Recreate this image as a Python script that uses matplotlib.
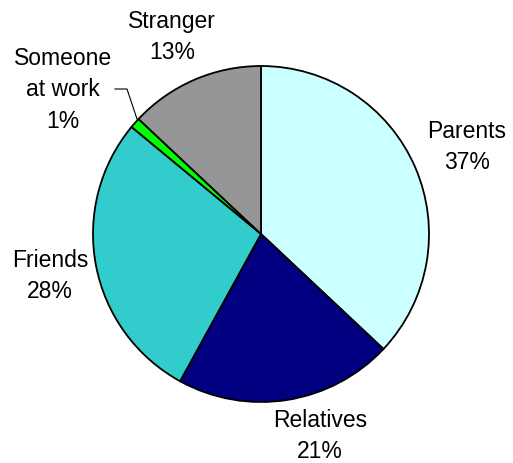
import matplotlib
matplotlib.use("Agg")
import matplotlib.pyplot as plt

categories = ["Parents", "Relatives", "Friends", "Someone\nat work", "Stranger"]
values = [37, 21, 28, 1, 13]
colors = ["#CCFFFF", "#000080", "#33CCCC", "#00FF00", "#969696"]
label_pos = [(467, 147), (320, 436), (50, 276), (63, 90), (172, 37)]

W, H = 513, 464
fig = plt.figure(figsize=(W / 100, H / 100), dpi=100)
ax = fig.add_axes([0, 0, 1, 1])

cx, cy, r = 261, H - 235, 168
ax.pie(values, colors=colors, startangle=90, counterclock=False,
       center=(cx, cy), radius=r, frame=True,
       wedgeprops=dict(edgecolor="black", linewidth=1.3))
ax.set_xlim(0, W)
ax.set_ylim(0, H)
ax.set_aspect("equal")
ax.axis("off")

for name, v, (x, y) in zip(categories, values, label_pos):
    ax.text(x, H - y, f"{name}\n{v}%", ha="center", va="center",
            fontsize=16.5, family="Liberation Sans", linespacing=1.45)

# leader line for the small slice
ax.plot([115, 127, 137], [H - 90, H - 90, H - 120], color="black", lw=0.8)

fig.savefig("out.png", dpi=100)
